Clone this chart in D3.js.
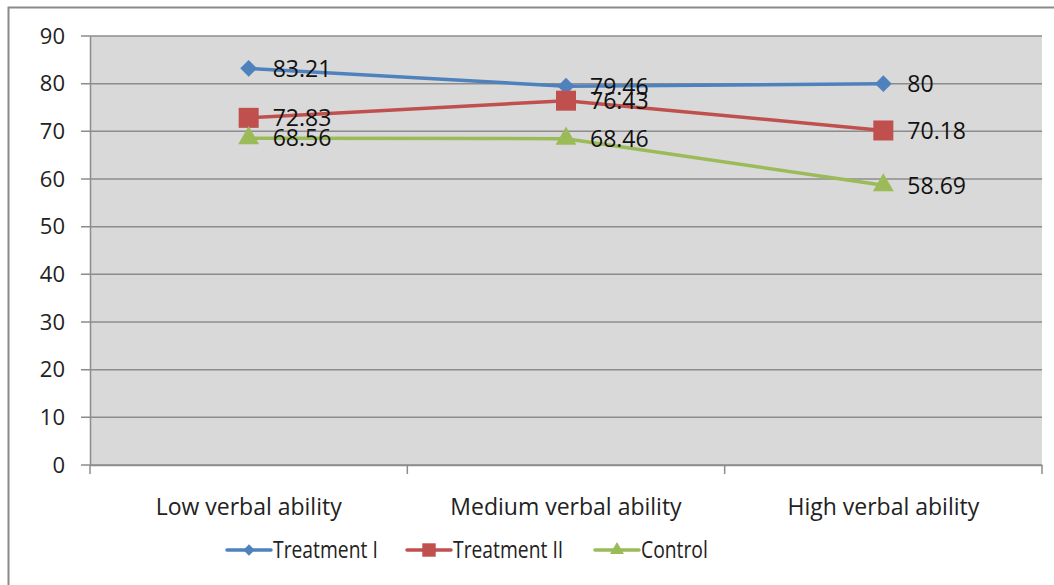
<!DOCTYPE html>
<html><head><meta charset="utf-8">
<script src="https://cdn.jsdelivr.net/npm/d3@7"></script>
<style>body{margin:0;background:#fff;} svg{display:block;} text{font-family:"Open Sans", sans-serif;}</style>
</head><body><svg id="c" width="1054" height="585"></svg>
<script>
const categories = ["Low verbal ability","Medium verbal ability","High verbal ability"];
const seriesNames = ["Treatment I","Treatment II","Control"];
const treatment1 = [83.21, 79.46, 80];
const treatment2 = [72.83, 76.43, 70.18];
const control = [68.56, 68.46, 58.69];
const yTicks = [0,10,20,30,40,50,60,70,80,90];
const colors = ["#4F81BD","#C0504D","#9BBB59"];
const symbols = [d3.symbolDiamond2, d3.symbolSquare, d3.symbolTriangle];
const symSizes = [180, 400, 190];

const svg = d3.select("#c");
svg.append("rect").attr("x",8.5).attr("y",7.5).attr("width",1060).attr("height",600)
  .attr("fill","#fff").attr("stroke","#8a8a8a").attr("stroke-width",2);

const L=90,R=1042,T=36,B=465;
const x = d3.scaleBand().domain(categories).range([L,R]);
const y = d3.scaleLinear().domain([0,90]).range([B,T]);

svg.append("rect").attr("x",L).attr("y",T).attr("width",R-L).attr("height",B-T).attr("fill","#D9D9D9");

svg.selectAll("line.grid").data(yTicks).join("line")
  .attr("x1",L-9).attr("x2",R).attr("y1",d=>y(d)).attr("y2",d=>y(d))
  .attr("stroke","#8c8c8c").attr("stroke-width",1.5);

// y axis
const ya = svg.append("g").attr("transform",`translate(${L},0)`)
  .call(d3.axisLeft(y).tickValues(yTicks).tickSize(0).tickPadding(25));
ya.select(".domain").attr("stroke","#8c8c8c").attr("stroke-width",1.5);
ya.selectAll("text").attr("font-size",22).attr("fill","#222").attr("font-family","'Open Sans', sans-serif");

// x axis
const xa = svg.append("g").attr("transform",`translate(0,${B})`)
  .call(d3.axisBottom(x).tickSize(0));
xa.select(".domain").attr("stroke","#8c8c8c").attr("stroke-width",1.5);
xa.selectAll("text").attr("y",42).attr("dy","0.35em").attr("font-size",23).attr("fill","#222").attr("font-family","'Open Sans', sans-serif");
const bounds = [L, ...categories.map(c=>x(c)+x.bandwidth())];
svg.selectAll("line.xt").data(bounds).join("line")
  .attr("x1",d=>d).attr("x2",d=>d).attr("y1",B).attr("y2",B+9)
  .attr("stroke","#8c8c8c").attr("stroke-width",1.5);

const cx = c => x(c)+x.bandwidth()/2;
const allSeries = [treatment1, treatment2, control];
const line = d3.line().x((d,i)=>cx(categories[i])).y(d=>y(d));

allSeries.forEach((vals,si)=>{
  svg.append("path").datum(vals).attr("d",line).attr("fill","none")
    .attr("stroke",colors[si]).attr("stroke-width",3.5);
});
allSeries.forEach((vals,si)=>{
  svg.selectAll(null).data(vals).join("path")
    .attr("transform",(d,i)=>`translate(${cx(categories[i])},${y(d)})`)
    .attr("d",d3.symbol(symbols[si],symSizes[si])).attr("fill",colors[si]);
});
allSeries.forEach((vals,si)=>{
  svg.selectAll(null).data(vals).join("text")
    .attr("x",(d,i)=>cx(categories[i])+24).attr("y",d=>y(d))
    .attr("dy","0.36em").attr("font-size",23).attr("fill","#111")
    .text(d=>d);
});

// legend
const legX = [227, 407, 595];
seriesNames.forEach((n,i)=>{
  const lg = svg.append("g");
  lg.append("line").attr("x1",legX[i]).attr("x2",legX[i]+44).attr("y1",550).attr("y2",550)
    .attr("stroke",colors[i]).attr("stroke-width",3.5).attr("stroke-linecap","round");
  lg.append("path").attr("transform",`translate(${legX[i]+22},550)`)
    .attr("d",d3.symbol(symbols[i],symSizes[i]*0.45)).attr("fill",colors[i]);
  lg.append("text").attr("transform",`translate(${legX[i]+46},550) scale(0.84,1)`)
    .attr("dy","0.35em").attr("font-size",23).attr("fill","#222").text(n);
});
</script></body></html>
